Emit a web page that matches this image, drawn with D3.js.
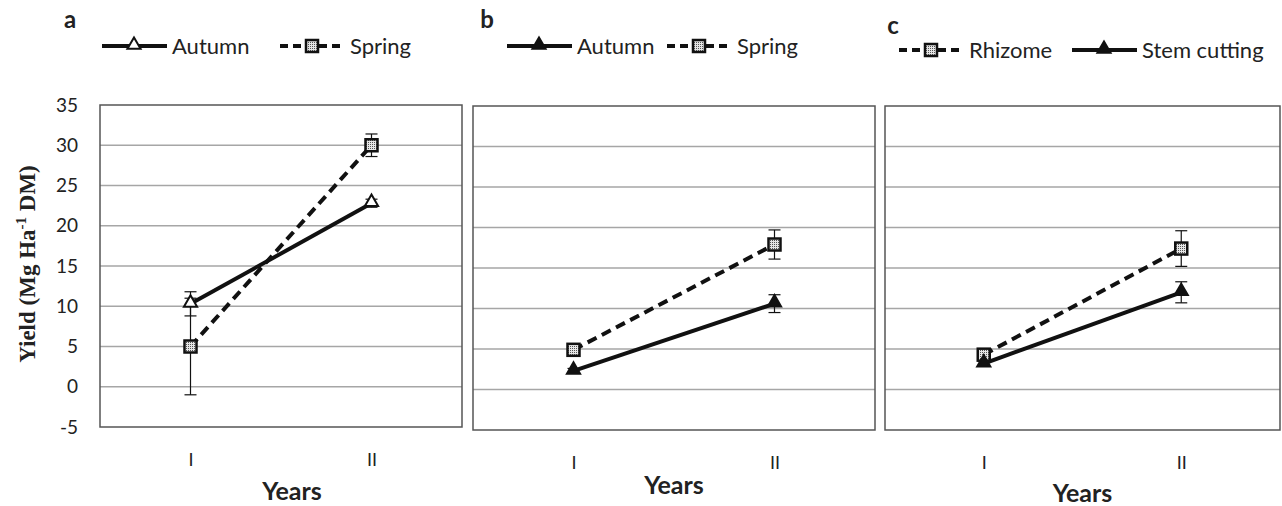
<!DOCTYPE html>
<html>
<head>
<meta charset="utf-8">
<script src="https://cdn.jsdelivr.net/npm/d3@7"></script>
<style>
body { margin: 0; background: #fff; }
svg text { font-family: Lato, "Open Sans", sans-serif; fill: #222; }
</style>
</head>
<body>
<div id="chart"></div>
<script>
// data
var years = ["I", "II"];
var yTicks = [-5, 0, 5, 10, 15, 20, 25, 30, 35];

var aAutumn = [10.3, 22.8], aAutumnErr = [1.5, 0.5];
var aSpring = [5.0, 30.0], aSpringErr = [6.0, 1.4];
var bAutumn = [2.3, 10.6], bAutumnErr = [0.3, 1.1];
var bSpring = [4.9, 17.9], bSpringErr = [0.3, 1.8];
var cRhizome = [4.3, 17.4], cRhizomeErr = [0.4, 2.2];
var cStem = [3.2, 12.0], cStemErr = [0.3, 1.3];

var width = 1282, height = 506;

var svg = d3.select("#chart").append("svg")
    .attr("width", width).attr("height", height);

// dotted fill for the square markers
var pat = svg.append("defs").append("pattern")
    .attr("id", "dots").attr("width", 2).attr("height", 2)
    .attr("patternUnits", "userSpaceOnUse");
pat.append("rect").attr("width", 2).attr("height", 2).attr("fill", "#e6e6e6");
pat.append("rect").attr("width", 1).attr("height", 1).attr("fill", "#555");

var panels = [
    { tag: "a", x0: 100, x1: 462, y0: 105, y1: 427, openTri: true, axis: true, titleDx: 11, titleY: 500,
      series: [
        { name: "Autumn", values: aAutumn, err: aAutumnErr, dash: null, shape: "tri" },
        { name: "Spring", values: aSpring, err: aSpringErr, dash: "10,6", shape: "sq" }
      ],
      tagX: 70, legend: [{ i: 0, x: 102 }, { i: 1, x: 280 }] },
    { tag: "b", x0: 473, x1: 875, y0: 106, y1: 430, openTri: false, axis: false, titleDx: 0, titleY: 494,
      series: [
        { name: "Autumn", values: bAutumn, err: bAutumnErr, dash: null, shape: "tri" },
        { name: "Spring", values: bSpring, err: bSpringErr, dash: "10,6", shape: "sq" }
      ],
      tagX: 487, legend: [{ i: 0, x: 507 }, { i: 1, x: 667 }] },
    { tag: "c", x0: 885, x1: 1280, y0: 106, y1: 430, openTri: false, axis: false, titleDx: 0, titleY: 502,
      series: [
        { name: "Rhizome", values: cRhizome, err: cRhizomeErr, dash: "10,6", shape: "sq" },
        { name: "Stem cutting", values: cStem, err: cStemErr, dash: null, shape: "tri" }
      ],
      tagX: 893, legend: [{ i: 0, x: 899 }, { i: 1, x: 1072 }] }
];

function marker(g, shape, cx, cy, open) {
    if (shape == "tri") {
        g.append("path")
            .attr("d", d3.symbol().type(d3.symbolTriangle).size(75)())
            .attr("transform", "translate(" + cx + "," + (cy - 1) + ")")
            .attr("fill", open ? "#fff" : "#111")
            .attr("stroke", "#111").attr("stroke-width", 2);
    } else {
        g.append("rect")
            .attr("x", cx - 6).attr("y", cy - 6).attr("width", 12).attr("height", 12)
            .attr("fill", "url(#dots)").attr("stroke", "#111").attr("stroke-width", 2.5);
    }
}

panels.forEach(function (p) {
    var g = svg.append("g");
    var x = d3.scalePoint().domain(years).range([p.x0, p.x1]).padding(0.5);
    var y = d3.scaleLinear().domain([-5, 35]).range([p.y1, p.y0]);

    // gridlines
    g.selectAll(".grid").data(yTicks.slice(1, -1)).enter().append("line")
        .attr("x1", p.x0).attr("x2", p.x1)
        .attr("y1", function (d) { return y(d); })
        .attr("y2", function (d) { return y(d); })
        .attr("stroke", "#a6a6a6").attr("stroke-width", 1.5);

    // frame
    g.append("rect").attr("x", p.x0).attr("y", p.y0)
        .attr("width", p.x1 - p.x0).attr("height", p.y1 - p.y0)
        .attr("fill", "none").attr("stroke", "#555").attr("stroke-width", 1.5);

    if (p.axis) {
        var ya = g.append("g").attr("transform", "translate(" + (p.x0 - 22) + ",0)")
            .call(d3.axisLeft(y).tickValues(yTicks).tickSize(0).tickPadding(0)
                .tickFormat(function (d) { return d; }));
        ya.select(".domain").remove();
        ya.selectAll("text").style("font-family", "Lato, sans-serif")
            .style("font-size", "19px").attr("fill", "#333");
    }

    var xa = g.append("g").attr("transform", "translate(0," + p.y1 + ")")
        .call(d3.axisBottom(x).tickSize(0).tickPadding(26));
    xa.select(".domain").remove();
    xa.selectAll("text").style("font-family", "Lato, sans-serif")
        .style("font-size", "18px").attr("fill", "#333");

    g.append("text").attr("x", (p.x0 + p.x1) / 2 + p.titleDx).attr("y", p.titleY)
        .attr("text-anchor", "middle").style("font-size", "25px")
        .style("font-weight", "bold").text("Years");

    var line = d3.line()
        .x(function (d, i) { return x(years[i]); })
        .y(function (d) { return y(d); });

    p.series.forEach(function (s) {
        // error bars
        s.values.forEach(function (v, i) {
            var cx = x(years[i]);
            var e = g.append("g").attr("stroke", "#111").attr("stroke-width", 1.2);
            e.append("line").attr("x1", cx).attr("x2", cx)
                .attr("y1", y(v - s.err[i])).attr("y2", y(v + s.err[i]));
            [v - s.err[i], v + s.err[i]].forEach(function (w) {
                e.append("line").attr("x1", cx - 6).attr("x2", cx + 6)
                    .attr("y1", y(w)).attr("y2", y(w));
            });
        });
        g.append("path").attr("d", line(s.values))
            .attr("fill", "none").attr("stroke", "#111").attr("stroke-width", 4)
            .attr("stroke-dasharray", s.dash);
    });
    p.series.forEach(function (s) {
        s.values.forEach(function (v, i) {
            marker(g, s.shape, x(years[i]), y(v), p.openTri);
        });
    });

    // panel letter
    svg.append("text").attr("x", p.tagX).attr("y", p.tag == "c" ? 34 : 28)
        .attr("text-anchor", "middle").style("font-size", "24px")
        .style("font-weight", "bold").text(p.tag);

    // legend
    var ly = p.tag == "c" ? 50 : 46;
    p.legend.forEach(function (l) {
        var s = p.series[l.i];
        svg.append("line").attr("x1", l.x).attr("x2", l.x + 65)
            .attr("y1", ly).attr("y2", ly)
            .attr("stroke", "#111").attr("stroke-width", 4)
            .attr("stroke-dasharray", s.dash ? "8,5" : null);
        marker(svg, s.shape, l.x + 32, ly, p.openTri);
        svg.append("text").attr("x", l.x + 70).attr("y", ly + 8)
            .style("font-size", "22px").text(s.name);
    });
});

// y axis title
var yt = svg.append("text")
    .attr("transform", "translate(35,264) rotate(-90)")
    .attr("text-anchor", "middle")
    .style("font-family", "'Liberation Serif', serif")
    .style("font-size", "23px").style("font-weight", "bold");
yt.append("tspan").text("Yield (Mg Ha");
yt.append("tspan").attr("dy", -9).style("font-size", "15px").text("-1");
yt.append("tspan").attr("dy", 9).text("  DM)");
</script>
</body>
</html>
